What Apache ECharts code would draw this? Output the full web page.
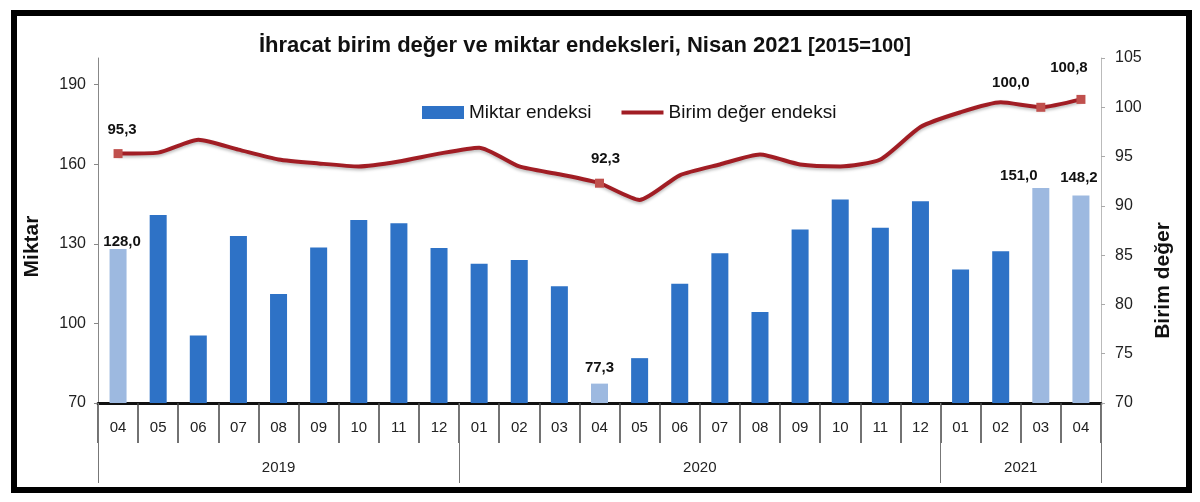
<!DOCTYPE html>
<html>
<head>
<meta charset="utf-8">
<title>İhracat birim değer ve miktar endeksleri</title>
<script src="https://cdn.jsdelivr.net/npm/echarts@6/dist/echarts.min.js"></script>
<style>
  html, body { margin: 0; padding: 0; background: #fff; }
  #chart { width: 1200px; height: 502px; }
</style>
</head>
<body>
<div id="chart"></div>
<script>
// aylar (2019-04 .. 2021-04)
const months = ['04', '05', '06', '07', '08', '09', '10', '11', '12',
  '01', '02', '03', '04', '05', '06', '07', '08', '09', '10', '11', '12',
  '01', '02', '03', '04']
const years = ['2019', '2020', '2021']
const monthsPerYear = [9, 12, 4]

// Miktar endeksi (sol eksen)
const miktar = [128.0, 140.8, 95.4, 132.9, 111.1, 128.6, 139.0, 137.7, 128.4,
  122.5, 123.9, 114.0, 77.3, 86.9, 114.9, 126.4, 104.3, 135.4, 146.7, 136.0, 146.0,
  120.3, 127.2, 151.0, 148.2]

// Birim değer endeksi (sağ eksen)
const birimDeger = [95.3, 95.4, 96.7, 95.7, 94.7, 94.3, 94.0, 94.5, 95.3,
  95.9, 94.0, 93.2, 92.3, 90.6, 93.1, 94.2, 95.2, 94.2, 94.0, 94.7, 98.0,
  99.5, 100.5, 100.0, 100.8]

// etiketli / açık renkli aylar
const highlighted = [0, 12, 23, 24]

const leftTicks = [70, 100, 130, 160, 190]

const NARROW = "'Liberation Sans Narrow', 'Arial Narrow', 'Liberation Sans', sans-serif"
const SANS = "'Liberation Sans', Arial, sans-serif"
const BAR_COLOR = '#2e72c6'
const BAR_LIGHT = '#9db9e0'
const LINE_COLOR = '#a11d24'
const MARKER_COLOR = '#c0504d'

const fmt = v => v.toFixed(1).replace('.', ',')

// yıl sınırları ve ortaları
const yearBounds = [0]
monthsPerYear.forEach(n => yearBounds.push(yearBounds[yearBounds.length - 1] + n))
const yearCenters = years.map((_, i) => (yearBounds[i] + yearBounds[i + 1]) / 2)

const barLabelPos = {
  0: { distance: 0, offset: [4, 0] },
  12: { distance: 8, offset: [0, 0] },
  23: { distance: 5, offset: [-22, 0] },
  24: { distance: 10, offset: [-2, 0] }
}
const lineLabelPos = {
  0: { distance: 12, offset: [4, 0] },
  12: { distance: 12, offset: [6, 0] },
  23: { distance: 12, offset: [-30, 0] },
  24: { distance: 20, offset: [-12, 0] }
}

const valueLabel = {
  color: '#111',
  fontSize: 15,
  fontWeight: 'bold',
  fontFamily: SANS,
  formatter: p => fmt(p.value)
}

const barData = miktar.map((v, i) => highlighted.includes(i)
  ? { value: v, itemStyle: { color: BAR_LIGHT }, label: { show: true, position: 'top', ...valueLabel, ...barLabelPos[i] } }
  : v)

const lineData = birimDeger.map((v, i) => highlighted.includes(i)
  ? { value: v, symbol: 'rect', symbolSize: 9, itemStyle: { color: MARKER_COLOR },
      label: { show: true, position: 'top', ...valueLabel, ...lineLabelPos[i] } }
  : v)

const chart = echarts.init(document.getElementById('chart'))

chart.setOption({
  backgroundColor: '#fff',
  animation: false,
  title: {
    text: '{a|İhracat birim değer ve miktar endeksleri, Nisan 2021 }{b|[2015=100]}',
    left: 254,
    top: 30,
    textStyle: {
      rich: {
        a: { fontSize: 22, fontWeight: 'bold', color: '#111', fontFamily: SANS },
        b: { fontSize: 20, fontWeight: 'bold', color: '#111', fontFamily: SANS }
      }
    }
  },
  legend: {
    left: 417,
    top: 98,
    itemWidth: 42,
    itemHeight: 13,
    itemGap: 30,
    textStyle: { fontSize: 19, color: '#111', fontFamily: NARROW },
    data: [
      { name: 'Miktar endeksi', icon: 'rect' },
      { name: 'Birim değer endeksi', icon: 'path://M0 0H42V4H0Z', itemStyle: { color: LINE_COLOR } }
    ]
  },
  graphic: [{
    type: 'rect',
    shape: { x: 14, y: 13, width: 1175, height: 477 },
    style: { fill: 'none', stroke: '#000', lineWidth: 6 },
    silent: true
  }],
  grid: { left: 98, right: 99, top: 58, bottom: 99 },
  xAxis: [
    {
      type: 'category',
      data: months,
      position: 'bottom',
      axisLine: { lineStyle: { color: '#111', width: 3 } },
      axisTick: { show: true, interval: 0, length: 40, lineStyle: { color: '#444', width: 1.5 } },
      axisLabel: { interval: 0, margin: 17, fontSize: 15, color: '#222', fontFamily: NARROW }
    },
    {
      type: 'value',
      min: 0,
      max: months.length,
      position: 'bottom',
      axisLine: { show: false },
      splitLine: { show: false },
      axisTick: { show: true, customValues: yearBounds, length: 80, lineStyle: { color: '#777', width: 1 } },
      axisLabel: {
        customValues: yearCenters,
        margin: 57,
        fontSize: 15,
        color: '#222',
        fontFamily: NARROW,
        formatter: v => {
          const i = yearCenters.indexOf(v)
          return i >= 0 ? years[i] : ''
        }
      }
    }
  ],
  yAxis: [
    {
      type: 'value',
      min: 70,
      max: 200,
      interval: 30,
      position: 'left',
      name: 'Miktar',
      nameLocation: 'middle',
      nameGap: 55,
      nameTextStyle: { fontSize: 21, fontWeight: 'bold', color: '#111', fontFamily: SANS, padding: [0, 32, 0, 0] },
      axisLine: { show: true, lineStyle: { color: '#888', width: 1 } },
      axisTick: { show: true, length: 4, customValues: leftTicks, lineStyle: { color: '#888' } },
      axisLabel: { customValues: leftTicks, margin: 12, fontSize: 16, color: '#222', fontFamily: NARROW },
      splitLine: { show: false }
    },
    {
      type: 'value',
      min: 70,
      max: 105,
      interval: 5,
      position: 'right',
      name: 'Birim değer',
      nameLocation: 'middle',
      nameGap: 49,
      nameTextStyle: { fontSize: 21, fontWeight: 'bold', color: '#111', fontFamily: SANS, padding: [0, 100, 0, 0] },
      axisLine: { show: true, lineStyle: { color: '#bbb', width: 1 } },
      axisTick: { show: true, length: 4, lineStyle: { color: '#aaa' } },
      axisLabel: { margin: 14, fontSize: 16, color: '#222', fontFamily: NARROW },
      splitLine: { show: false }
    }
  ],
  series: [
    {
      name: 'Miktar endeksi',
      type: 'bar',
      barWidth: 17,
      itemStyle: { color: BAR_COLOR },
      data: barData
    },
    {
      name: 'Birim değer endeksi',
      type: 'line',
      yAxisIndex: 1,
      symbol: 'none',
      smooth: 0.2,
      lineStyle: { color: LINE_COLOR, width: 4, shadowColor: 'rgba(0,0,0,0.25)', shadowBlur: 3, shadowOffsetY: 2 },
      itemStyle: { color: LINE_COLOR },
      data: lineData,
      z: 3
    }
  ]
})
</script>
</body>
</html>
